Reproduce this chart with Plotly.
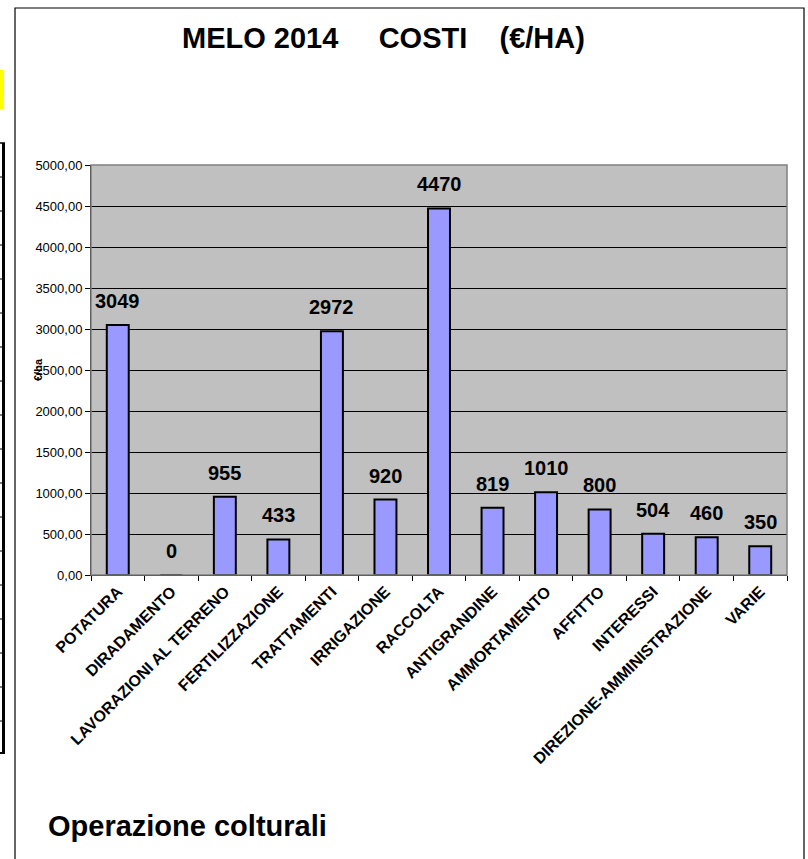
import plotly.graph_objects as go

categories = ["POTATURA", "DIRADAMENTO", "LAVORAZIONI AL TERRENO", "FERTILIZZAZIONE",
              "TRATTAMENTI", "IRRIGAZIONE", "RACCOLTA", "ANTIGRANDINE", "AMMORTAMENTO",
              "AFFITTO", "INTERESSI", "DIREZIONE-AMMINISTRAZIONE", "VARIE"]
values = [3049, 0, 955, 433, 2972, 920, 4470, 819, 1010, 800, 504, 460, 350]
tick_vals = [0, 500, 1000, 1500, 2000, 2500, 3000, 3500, 4000, 4500, 5000]
tick_text = ["0,00", "500,00", "1000,00", "1500,00", "2000,00", "2500,00", "3000,00",
             "3500,00", "4000,00", "4500,00", "5000,00"]

W, H = 808, 859
L, R, T, B = 91, 787, 165, 575

def px(x):
    return (x - L) / (R - L)

def py(y):
    return (B - y) / (B - T)

FONT = "Liberation Sans, Arial, sans-serif"

fig = go.Figure()
fig.add_trace(go.Bar(
    x=categories, y=values,
    marker=dict(color="#9999FF", line=dict(color="black", width=2)),
    width=0.41,
    hoverinfo="x+y",
))

annotations = []
for c, v in zip(categories, values):
    annotations.append(dict(x=c, y=v, xref="x", yref="y", text="<b>%d</b>" % v,
                            showarrow=False, yanchor="bottom", yshift=11,
                            font=dict(family=FONT, size=20, color="black")))

annotations.append(dict(xref="paper", yref="paper", x=px(383), y=py(38),
                        text="<b>MELO 2014\u00a0\u00a0\u00a0\u00a0 COSTI\u00a0\u00a0\u00a0 (€/HA)</b>",
                        showarrow=False, xanchor="center", yanchor="middle",
                        font=dict(family=FONT, size=29, color="black")))
annotations.append(dict(xref="paper", yref="paper", x=px(46), y=py(826),
                        text="<b>Operazione colturali</b>",
                        showarrow=False, xanchor="left", yanchor="middle",
                        font=dict(family=FONT, size=29, color="black")))
annotations.append(dict(xref="paper", yref="paper", x=px(38), y=py(370),
                        text="<b>€/ha</b>", textangle=-90,
                        showarrow=False, xanchor="center", yanchor="middle",
                        font=dict(family=FONT, size=11, color="black")))

shapes = []
# outer chart frame
shapes.append(dict(type="rect", xref="paper", yref="paper",
                   x0=px(15), x1=px(804), y0=py(8), y1=py(880),
                   line=dict(color="black", width=1.2), fillcolor="rgba(0,0,0,0)", layer="below"))
# plot area border (grey)
shapes.append(dict(type="rect", xref="paper", yref="paper", x0=0, x1=1, y0=0, y1=1,
                   line=dict(color="#808080", width=1.5), fillcolor="rgba(0,0,0,0)", layer="above"))
# left-edge spreadsheet artifacts
shapes.append(dict(type="rect", xref="paper", yref="paper",
                   x0=px(-2), x1=px(4), y0=py(109), y1=py(70),
                   line=dict(width=0), fillcolor="#FFFF00"))
shapes.append(dict(type="line", xref="paper", yref="paper",
                   x0=px(3.5), x1=px(3.5), y0=py(143), y1=py(753),
                   line=dict(color="black", width=3)))
yy = 143
while yy <= 754:
    shapes.append(dict(type="line", xref="paper", yref="paper",
                       x0=px(-2), x1=px(5), y0=py(yy), y1=py(yy),
                       line=dict(color="black", width=1.5 if yy == 143 else 1)))
    yy += 34
shapes.append(dict(type="line", xref="paper", yref="paper",
                   x0=px(-2), x1=px(5), y0=py(753), y1=py(753),
                   line=dict(color="black", width=2)))

fig.update_layout(
    width=W, height=H, autosize=False,
    margin=dict(l=L, r=W - R, t=T, b=H - B, pad=0),
    paper_bgcolor="white", plot_bgcolor="#C0C0C0",
    showlegend=False,
    bargap=0.59,
    font=dict(family=FONT, color="black"),
    annotations=annotations,
    shapes=shapes,
    xaxis=dict(type="category", tickangle=-45, ticks="outside", ticklen=5,
               tickcolor="black", tickson="boundaries", showline=True,
               linecolor="black", linewidth=1, showgrid=False,
               tickfont=dict(family=FONT, size=16, color="black"),
               tickprefix="<b>", ticksuffix="</b>"),
    yaxis=dict(range=[0, 5000], tickvals=tick_vals, ticktext=tick_text,
               ticks="outside", ticklen=5, tickcolor="black", showline=True,
               linecolor="black", linewidth=1, showgrid=True, gridcolor="black",
               gridwidth=1, zeroline=False,
               tickfont=dict(family=FONT, size=13, color="black")),
)

fig.write_html("out.html", config={"displayModeBar": False},
               post_script="document.body.style.margin='0';document.body.style.overflow='hidden';")
